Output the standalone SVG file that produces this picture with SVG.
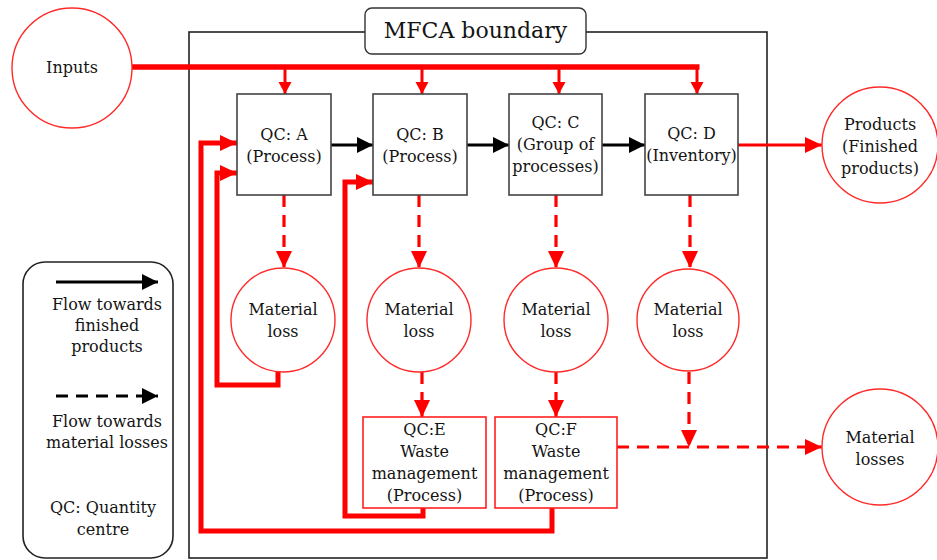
<svg xmlns="http://www.w3.org/2000/svg" width="937" height="560" viewBox="0 0 937 560">
  <style>
    text { font-family: "DejaVu Serif", "Liberation Serif", serif; font-size: 16px; fill: #141414; text-anchor: middle; }
    .title { font-size: 22px; }
    .qc { fill: #fff; stroke: #444; stroke-width: 1.6; }
    .qcw { fill: #fff; stroke: #ff2020; stroke-width: 1.6; }
    .node { fill: #fff; stroke: #ff2a2a; stroke-width: 1.4; }
    .feed { fill: none; stroke: #ff0000; stroke-width: 5; stroke-linejoin: miter; }
    .input { fill: none; stroke: #ff0000; stroke-width: 5.5; }
    .drop { fill: none; stroke: #ff0000; stroke-width: 3; }
    .loss { fill: none; stroke: #ff0000; stroke-width: 3.2; stroke-dasharray: 12 8; }
    .flow { fill: none; stroke: #000; stroke-width: 3; }
  </style>
  <defs>
    <marker id="redHead" markerUnits="userSpaceOnUse" markerWidth="18" markerHeight="18" refX="17" refY="8" orient="auto">
      <path d="M0,0 L17,8 L0,16 Z" fill="#ff0000"/>
    </marker>
    <marker id="redSmall" markerUnits="userSpaceOnUse" markerWidth="14" markerHeight="14" refX="12" refY="6.5" orient="auto">
      <path d="M0,0 L12,6.5 L0,13 Z" fill="#ff0000"/>
    </marker>
    <marker id="blackHead" markerUnits="userSpaceOnUse" markerWidth="18" markerHeight="18" refX="16" refY="8" orient="auto">
      <path d="M0,0 L16,8 L0,16 Z" fill="#000"/>
    </marker>
  </defs>

  <!-- MFCA boundary -->
  <g id="boundary">
    <rect x="189" y="32" width="578" height="526" fill="none" stroke="#222" stroke-width="1.6"/>
    <rect x="365" y="8" width="221" height="46" rx="7" fill="#fff" stroke="#333" stroke-width="1.4"/>
    <text class="title" x="475.5" y="38">MFCA boundary</text>
  </g>

  <!-- legend -->
  <g id="legend">
    <rect x="23" y="262" width="150" height="296" rx="22" fill="#fff" stroke="#222" stroke-width="1.6"/>
    <line x1="56" y1="282" x2="158" y2="282" stroke="#000" stroke-width="3" marker-end="url(#blackHead)"/>
    <text x="107" y="310">Flow towards</text>
    <text x="107" y="331">finished</text>
    <text x="107" y="352">products</text>
    <line x1="56" y1="396" x2="158" y2="396" stroke="#000" stroke-width="3" stroke-dasharray="12 8" marker-end="url(#blackHead)"/>
    <text x="107" y="427">Flow towards</text>
    <text x="107" y="448">material losses</text>
    <text x="103" y="513">QC: Quantity</text>
    <text x="103" y="535">centre</text>
  </g>

  <!-- connectors -->
  <g id="connectors">
    <!-- input supply line and drops -->
    <path class="input" d="M132,67 H699.5"/>
    <path class="drop" d="M285,67 V94" marker-end="url(#redSmall)"/>
    <path class="drop" d="M422,67 V94" marker-end="url(#redSmall)"/>
    <path class="drop" d="M559,67 V94" marker-end="url(#redSmall)"/>
    <path class="drop" d="M697,67 V94" marker-end="url(#redSmall)"/>
    <!-- product flow -->
    <path class="flow" d="M331,145 H373" marker-end="url(#blackHead)"/>
    <path class="flow" d="M467,145 H509" marker-end="url(#blackHead)"/>
    <path class="flow" d="M602,145 H645" marker-end="url(#blackHead)"/>
    <path class="drop" d="M738,145 H822" marker-end="url(#redHead)"/>
    <!-- flows to material loss -->
    <path class="loss" d="M284,195 V268" marker-end="url(#redHead)"/>
    <path class="loss" d="M419,195 V268" marker-end="url(#redHead)"/>
    <path class="loss" d="M556,195 V268" marker-end="url(#redHead)"/>
    <path class="loss" d="M690,195 V268" marker-end="url(#redHead)"/>
    <path class="loss" d="M422,372 V417" marker-end="url(#redHead)"/>
    <path class="loss" d="M556,372 V417" marker-end="url(#redHead)"/>
    <path class="loss" d="M689,372 V447" marker-end="url(#redHead)"/>
    <path class="loss" d="M617,447 H822" marker-end="url(#redHead)"/>
    <!-- recycling loops -->
    <path class="feed" d="M278,372 V385 H217 V173 H237" marker-end="url(#redHead)"/>
    <path class="feed" d="M552,508 V531 H201 V143 H237" marker-end="url(#redHead)"/>
    <path class="feed" d="M423,508 V516 H345 V182 H373" marker-end="url(#redHead)"/>
  </g>

  <!-- external nodes -->
  <g id="inputs">
    <circle class="node" cx="72" cy="68" r="60"/>
    <text x="72" y="73">Inputs</text>
  </g>
  <g id="products">
    <circle class="node" cx="880" cy="145" r="58"/>
    <text x="880" y="130">Products</text>
    <text x="880" y="152">(Finished</text>
    <text x="880" y="174">products)</text>
  </g>
  <g id="material-losses">
    <circle class="node" cx="880" cy="447" r="58"/>
    <text x="880" y="443">Material</text>
    <text x="880" y="465">losses</text>
  </g>

  <!-- quantity centres -->
  <g id="qc-a">
    <rect class="qc" x="237" y="94" width="94" height="101"/>
    <text x="284" y="140">QC: A</text>
    <text x="284" y="162">(Process)</text>
  </g>
  <g id="qc-b">
    <rect class="qc" x="373" y="94" width="94" height="101"/>
    <text x="420" y="140">QC: B</text>
    <text x="420" y="162">(Process)</text>
  </g>
  <g id="qc-c">
    <rect class="qc" x="509" y="94" width="93" height="101"/>
    <text x="555.5" y="128">QC: C</text>
    <text x="555.5" y="150">(Group of</text>
    <text x="555.5" y="172">processes)</text>
  </g>
  <g id="qc-d">
    <rect class="qc" x="645" y="94" width="93" height="101"/>
    <text x="691.5" y="139">QC: D</text>
    <text x="691.5" y="161">(Inventory)</text>
  </g>
  <g id="qc-e">
    <rect class="qcw" x="363" y="417" width="123" height="91"/>
    <text x="424.5" y="435">QC:E</text>
    <text x="424.5" y="457">Waste</text>
    <text x="424.5" y="479">management</text>
    <text x="424.5" y="501">(Process)</text>
  </g>
  <g id="qc-f">
    <rect class="qcw" x="495" y="417" width="122" height="91"/>
    <text x="556" y="435">QC:F</text>
    <text x="556" y="457">Waste</text>
    <text x="556" y="479">management</text>
    <text x="556" y="501">(Process)</text>
  </g>

  <!-- material loss nodes -->
  <g id="loss-a">
    <circle class="node" cx="283" cy="320" r="52"/>
    <text x="283" y="315">Material</text>
    <text x="283" y="337">loss</text>
  </g>
  <g id="loss-b">
    <circle class="node" cx="419" cy="320" r="52"/>
    <text x="419" y="315">Material</text>
    <text x="419" y="337">loss</text>
  </g>
  <g id="loss-c">
    <circle class="node" cx="556" cy="320" r="52"/>
    <text x="556" y="315">Material</text>
    <text x="556" y="337">loss</text>
  </g>
  <g id="loss-d">
    <circle class="node" cx="688" cy="320" r="51"/>
    <text x="688" y="315">Material</text>
    <text x="688" y="337">loss</text>
  </g>
</svg>
